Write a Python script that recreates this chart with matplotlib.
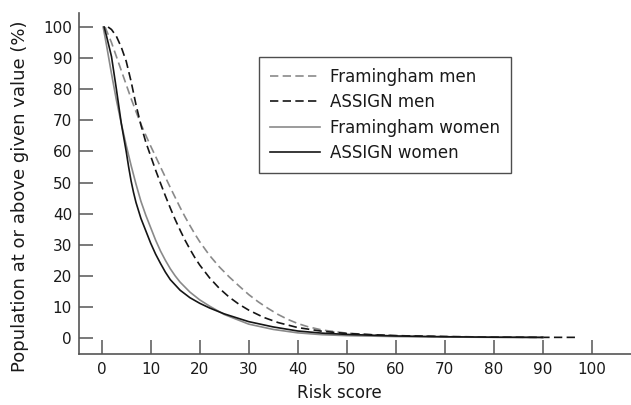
import matplotlib
matplotlib.use("Agg")
import matplotlib.pyplot as plt

# Framingham men (grey dashed)
fm_x = [0.7, 1, 2, 3, 4, 5, 6, 7, 8, 9, 10, 11, 12, 13, 14, 15, 16, 17, 18, 19, 20, 22, 24, 26, 28, 30, 32, 34, 36, 38, 40, 42, 45, 50, 55, 60, 70, 80, 90]
fm_y = [100, 98.8, 95, 90.5, 86, 81.5, 77, 72.8, 68.8, 65.2, 61.7, 58.4, 55, 51.7, 48.4, 45.2, 42, 39, 36.2, 33.5, 31, 26.6, 22.9, 19.7, 16.8, 14, 11.6, 9.5, 7.6, 6.0, 4.7, 3.7, 2.6, 1.6, 1.1, 0.8, 0.5, 0.35, 0.25]

# ASSIGN men (black dashed)
am_x = [1.3, 2, 3, 4, 5, 6, 7, 8, 9, 10, 11, 12, 13, 14, 15, 16, 17, 18, 19, 20, 22, 24, 26, 28, 30, 33, 36, 40, 45, 50, 55, 60, 70, 80, 90, 97]
am_y = [100, 99.2, 97, 93.5, 89, 82.5, 75, 68.5, 63, 58.5, 54, 49.8, 45.7, 41.8, 38.1, 34.7, 31.5, 28.6, 25.9, 23.5, 19.4, 16, 13.2, 10.9, 9.0, 6.7, 5.0, 3.4, 2.2, 1.5, 1.1, 0.8, 0.5, 0.35, 0.25, 0.25]

# Framingham women (grey solid)
fw_x = [0.3, 1, 2, 3, 4, 5, 6, 7, 8, 9, 10, 11, 12, 13, 14, 15, 16, 18, 20, 22, 25, 30, 35, 40, 45, 50, 60, 70, 80, 90]
fw_y = [100, 94, 85, 76.5, 69, 62, 55.5, 49.5, 44, 39.5, 35.5, 31.5, 28, 25, 22.3, 20, 18, 14.8, 12.3, 10.3, 7.6, 4.5, 2.8, 1.7, 1.1, 0.8, 0.5, 0.35, 0.25, 0.2]

# ASSIGN women (black solid)
aw_x = [0.5, 1, 2, 3, 4, 5, 5.5, 6, 6.5, 7, 8, 9, 10, 11, 12, 13, 14, 16, 18, 20, 22, 25, 30, 35, 40, 45, 50, 60, 70, 80, 90]
aw_y = [100, 97, 90.5, 80, 69, 60, 55, 50.5, 46.8, 43.6, 38.5, 34.5, 30.5, 27, 24, 21.2, 18.8, 15.4, 13.0, 11.2, 9.7, 7.8, 5.3, 3.6, 2.3, 1.6, 1.2, 0.7, 0.45, 0.3, 0.25]

labels = ["Framingham men", "ASSIGN men", "Framingham women", "ASSIGN women"]
x_ticks = [0, 10, 20, 30, 40, 50, 60, 70, 80, 90, 100]
y_ticks = [0, 10, 20, 30, 40, 50, 60, 70, 80, 90, 100]

plt.rcParams['font.family'] = ['DejaVu Sans']
FS = 11
GREY = '#8a8a8a'
BLACK = '#151515'

fig = plt.figure(figsize=(6.31, 4.05), dpi=100)
ax = fig.add_axes([79/631, 51/405, 1 - 79/631, (354-13)/405])

dash = (0, (5, 2.6))
ax.plot(fm_x, fm_y, color=GREY, lw=1.2, linestyle=dash, label=labels[0])
ax.plot(am_x, am_y, color=BLACK, lw=1.2, linestyle=dash, label=labels[1])
ax.plot(fw_x, fw_y, color=GREY, lw=1.2, label=labels[2])
ax.plot(aw_x, aw_y, color=BLACK, lw=1.2, label=labels[3])

ax.set_xlim(-4.63, 108.0)
ax.set_ylim(-5.1, 104.5)
ax.set_xticks(x_ticks)
ax.set_yticks(y_ticks)
ax.tick_params(axis='both', direction='in', length=10, width=1.1, color='#555555',
               labelsize=FS, labelcolor='#1a1a1a')
ax.tick_params(axis='x', pad=6)
ax.tick_params(axis='y', pad=5)
for s in ['top', 'right']:
    ax.spines[s].set_visible(False)
for s in ['left', 'bottom']:
    ax.spines[s].set_color('#555555')
    ax.spines[s].set_linewidth(1.2)

ax.set_xlabel("Risk score", fontsize=12, color='#1a1a1a')
ax.set_ylabel("Population at or above given value (%)", fontsize=13, color='#1a1a1a')
ax.xaxis.set_label_coords((339 - 79) / 552, (354 - 384) / 341)
ax.yaxis.set_label_coords((29 - 79) / 552, (354 - 196) / 341)

leg = ax.legend(loc='upper left', bbox_to_anchor=((259-79)/552, (354-57)/341),
                prop={'size': 12}, frameon=True, fancybox=False, handlelength=3.0,
                handletextpad=0.6, labelspacing=0.45, borderpad=0.65, borderaxespad=0)
leg.get_frame().set_edgecolor('#222222')
leg.get_frame().set_linewidth(1.0)
for t in leg.get_texts():
    t.set_color('#1a1a1a')

fig.savefig("out.png", dpi=100)
